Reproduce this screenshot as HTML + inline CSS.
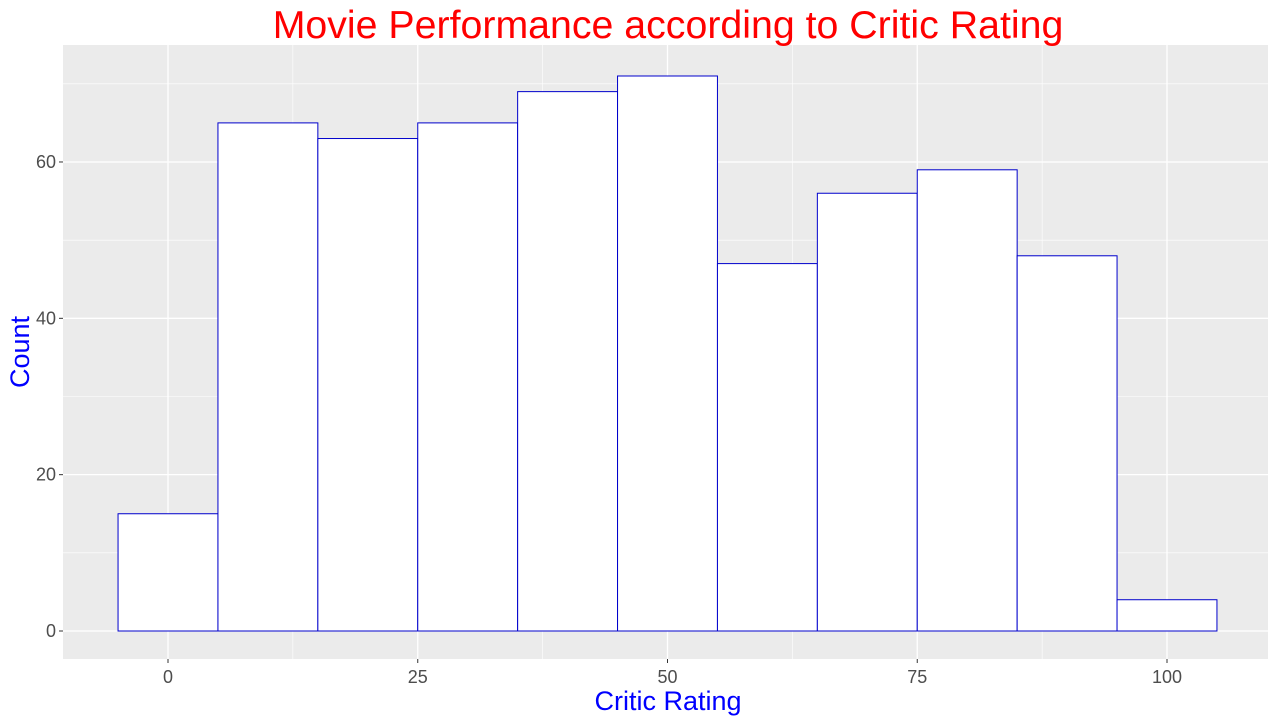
<!DOCTYPE html>
<html><head><meta charset="utf-8"><style>
body{margin:0;background:#fff;font-family:"Liberation Sans",sans-serif}
</style></head><body>
<svg width="1280" height="720" xmlns="http://www.w3.org/2000/svg">
<rect x="0" y="0" width="1280" height="720" fill="#fff"/>
<rect x="63" y="45" width="1205" height="614" fill="#ebebeb"/>
<g id="grid"></g>
<g id="bars"></g>
<g id="ticks"></g>
<text x="668" y="38" text-anchor="middle" font-size="39.3" fill="#ff0000">Movie Performance according to Critic Rating</text>
<text x="668" y="710" text-anchor="middle" font-size="27" fill="#0000ff">Critic Rating</text>
<text transform="translate(29,352) rotate(-90)" text-anchor="middle" font-size="27" fill="#0000ff">Count</text>
</svg>
<script>
const binCenters=[0,10,20,30,40,50,60,70,80,90,100];
const counts=[15,65,63,65,69,71,47,56,59,48,4];
const xTicks=[0,25,50,75,100];
const yTicks=[0,20,40,60];
const binWidth=10;
const NS="http://www.w3.org/2000/svg";
const X=v=>168+(v)*9.99;
const Y=v=>631-v*7.817;
const grid=document.getElementById('grid'),bars=document.getElementById('bars'),ticks=document.getElementById('ticks');
function mk(tag,attrs,parent){const e=document.createElementNS(NS,tag);for(const k in attrs)e.setAttribute(k,attrs[k]);parent.appendChild(e);return e;}
for(let i=0;i<xTicks.length-1;i++){const m=(xTicks[i]+xTicks[i+1])/2;
const l=mk('line',{x1:X(m),x2:X(m),y1:45,y2:659,stroke:'#fff','stroke-width':0.6},grid);

}
for(let i=0;i<yTicks.length;i++){const m=yTicks[i]+10;
const l=mk('line',{x1:63,x2:1268,y1:Y(m),y2:Y(m),stroke:'#fff','stroke-width':0.6},grid);

}
xTicks.forEach(t=>{const l=mk('line',{x1:X(t),x2:X(t),y1:45,y2:659,stroke:'#fff','stroke-width':1.3},grid);


const tk=mk('line',{x1:X(t),x2:X(t),y1:659,y2:663,stroke:'#333','stroke-width':1},ticks);


const tx=mk('text',{x:X(t),y:683,'text-anchor':'middle','font-size':18,fill:'#4d4d4d'},ticks);tx.textContent=t;

});
yTicks.forEach(t=>{const l=mk('line',{x1:63,x2:1268,y1:Y(t),y2:Y(t),stroke:'#fff','stroke-width':1.3},grid);


const tk=mk('line',{x1:59,x2:63,y1:Y(t),y2:Y(t),stroke:'#333','stroke-width':1},ticks);


const tx=mk('text',{x:56,y:Y(t)+6,'text-anchor':'end','font-size':18,fill:'#4d4d4d'},ticks);tx.textContent=t;

});
binCenters.forEach((c,i)=>{const r=mk('rect',{x:X(c-binWidth/2),y:Y(counts[i]),width:X(c+binWidth/2)-X(c-binWidth/2),height:Y(0)-Y(counts[i]),fill:'#fff',stroke:'#0000cc','stroke-width':1},bars);

});
</script>
</body></html>
